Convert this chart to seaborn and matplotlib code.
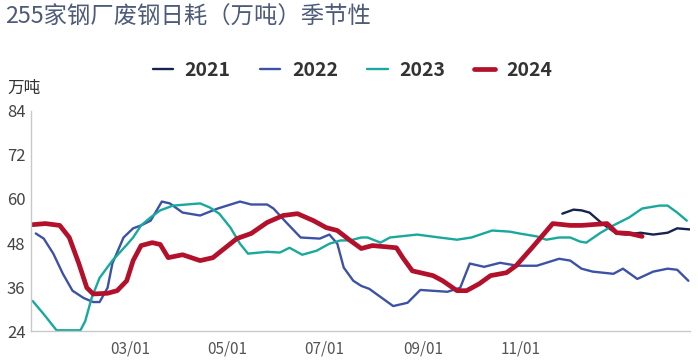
import matplotlib
matplotlib.use("Agg")
import matplotlib.pyplot as plt
import seaborn as sns
import pandas as pd

# ---- data (x = days since 01/01 of the season year) ----
years = ["2021", "2022", "2023", "2024"]

d2021 = [330, 337, 342, 347, 355, 364, 370, 379, 387, 396, 402, 410]
v2021 = [56.0, 57.1, 56.9, 56.3, 53.3, 50.6, 50.3, 50.8, 50.3, 50.8, 52.0, 51.7]

d2022 = [0, 5, 11, 17, 23, 30, 36, 40, 45, 48, 55, 61, 66, 72, 79, 84, 92, 103,
         114, 128, 135, 145, 149, 157, 166, 178, 184, 189, 193, 199, 204, 209,
         224, 233, 241, 258, 266, 272, 281, 291, 302, 314, 328, 335, 342, 349,
         362, 368, 377, 387, 396, 402, 409]
v2022 = [50.6, 49.2, 45.1, 39.6, 35.0, 33.0, 31.9, 31.9, 35.8, 42.4, 49.5, 52.0,
         52.8, 54.1, 59.3, 58.8, 56.3, 55.5, 57.4, 59.3, 58.5, 58.5, 57.4, 53.6,
         49.5, 49.2, 50.3, 47.8, 41.3, 37.7, 36.3, 35.5, 30.8, 31.7, 35.2, 34.7,
         35.8, 42.4, 41.5, 42.6, 41.8, 41.8, 43.7, 43.2, 41.0, 40.2, 39.6, 41.0,
         38.2, 40.2, 41.0, 40.7, 37.7]

d2023 = [-2, 5, 13, 28, 31, 35, 40, 48, 57, 61, 66, 72, 78, 86, 103, 109, 115,
         122, 128, 133, 145, 153, 159, 167, 176, 184, 191, 197, 204, 208, 216,
         222, 239, 253, 264, 273, 286, 297, 303, 314, 320, 328, 335, 341, 345,
         354, 362, 372, 380, 391, 396, 402, 408]
v2023 = [32.2, 28.6, 24.2, 24.2, 26.7, 33.0, 38.5, 43.2, 47.5, 49.5, 52.8, 55.0,
         56.9, 58.2, 58.8, 57.7, 56.0, 52.2, 47.8, 45.1, 45.6, 45.4, 46.7, 44.8,
         45.9, 47.8, 48.7, 48.7, 49.5, 49.5, 48.1, 49.5, 50.3, 49.5, 48.9, 49.5,
         51.4, 51.1, 50.6, 49.8, 48.9, 49.5, 49.5, 48.4, 48.1, 50.8, 52.8, 55.0,
         57.4, 58.2, 58.2, 56.3, 54.1]

d2024 = [-2, 6, 15, 21, 27, 32, 36, 45, 51, 57, 61, 66, 73, 78, 83, 92, 103,
         111, 126, 135, 145, 155, 164, 174, 182, 189, 197, 204, 211, 226, 230,
         236, 249, 255, 264, 270, 278, 285, 295, 301, 311, 324, 335, 342, 358,
         364, 372, 380]
v2024 = [53.0, 53.3, 52.8, 49.5, 42.4, 35.8, 34.1, 34.3, 35.0, 37.7, 43.2, 47.3,
         48.1, 47.6, 44.0, 44.8, 43.2, 44.0, 49.2, 50.6, 53.6, 55.5, 56.0, 54.1,
         52.2, 51.4, 48.7, 46.5, 47.3, 46.7, 44.0, 40.4, 39.1, 37.7, 35.0, 35.0,
         36.9, 39.1, 39.9, 41.8, 46.7, 53.3, 52.8, 52.8, 53.3, 50.8, 50.6, 49.8]

tick_days = [59, 120, 181, 243, 304]
tick_labels = ["03/01", "05/01", "07/01", "09/01", "11/01"]
y_ticks = [24, 36, 48, 60, 72, 84]

colors = {"2021": "#16234f", "2022": "#3d52a6", "2023": "#17a99b", "2024": "#b3102b"}
widths = {"2021": 1.7, "2022": 1.7, "2023": 1.7, "2024": 3.4}

series = {"2021": (d2021, v2021), "2022": (d2022, v2022),
          "2023": (d2023, v2023), "2024": (d2024, v2024)}
df = pd.concat([pd.DataFrame({"day": d, "value": v, "year": y})
                for y, (d, v) in series.items()], ignore_index=True)

sns.set_theme(style="white")
plt.rcParams["font.family"] = ["Noto Sans CJK SC", "DejaVu Sans"]

fig = plt.figure(figsize=(6.98, 3.62), dpi=100)
ax = fig.add_axes([0.0444, 0.0856, 0.9441, 0.6078])

for y in years:
    sns.lineplot(data=df[df["year"] == y], x="day", y="value", ax=ax,
                 color=colors[y], linewidth=widths[y], label=y,
                 estimator=None, sort=False, legend=False)

ax.set_xlim(-3, 410)
ax.set_ylim(24, 84)
ax.set_xticks(tick_days)
ax.set_xticklabels(tick_labels)
ax.set_yticks(y_ticks)
ax.set_xlabel("")
ax.set_ylabel("")
for s in ["top", "right"]:
    ax.spines[s].set_visible(False)
for s in ["left", "bottom"]:
    ax.spines[s].set_color("#c8c8c8")
    ax.spines[s].set_linewidth(1.0)
ax.tick_params(axis="x", direction="in", length=8, width=1, color="#c8c8c8",
               labelsize=11, labelcolor="#555555", pad=7)
ax.tick_params(axis="y", direction="in", length=4, width=1, color="#c8c8c8",
               labelsize=12, labelcolor="#444444", pad=4)
ax.grid(False)

handles = [plt.Line2D([], [], color=colors[y], linewidth=widths[y]) for y in years]
fig.legend(handles, years, loc="center", bbox_to_anchor=(0.505, 0.805), ncol=4,
           frameon=False, handlelength=1.05, columnspacing=1.5, handletextpad=0.6,
           prop={"weight": "bold", "size": 14}, labelcolor="#333333")

fig.text(0.007, 0.953, "255家钢厂废钢日耗（万吨）季节性", fontsize=16.8,
         color="#4d5b78", va="center", ha="left")
fig.text(0.01, 0.757, "万吨", fontsize=12, color="#333333", va="center", ha="left")

fig.savefig("out.png", dpi=100)
